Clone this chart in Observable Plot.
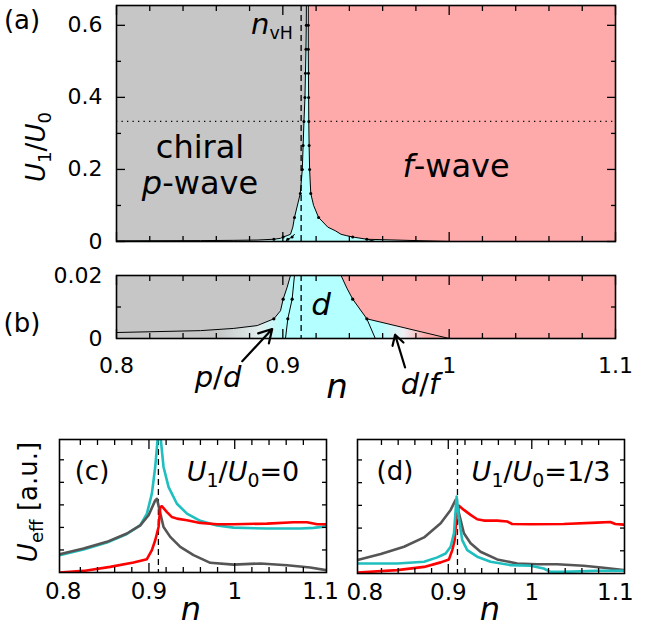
<!DOCTYPE html>
<html><head><meta charset="utf-8">
<script src="https://cdn.jsdelivr.net/npm/d3@7"></script>
<script src="https://cdn.jsdelivr.net/npm/@observablehq/plot@0.6"></script>
<style>
body{margin:0;background:#fff;}
#fig{position:relative;width:652px;height:630px;font-family:"DejaVu Sans";color:#000;overflow:hidden;}
#fig svg{position:absolute;}
.t{position:absolute;transform:translate(-50%,-50%);white-space:nowrap;line-height:1;}
.r{transform:translate(-50%,-50%) rotate(-90deg);}
.t i{font-style:italic;}
.t sub{font-size:0.7em;vertical-align:-0.32em;line-height:0;}
</style></head><body><div id="fig"></div>
<script>
// ---------- data: phase diagram boundaries (n, U1/U0) ----------
const nVH = 0.911;
const uCut = 1 / 3;
// chiral p-wave edge
const pEdgeN = [0.8000,0.8505,0.8705,0.8846,0.8946,0.8986,0.9002,0.9026,0.9046,0.9060,0.9070,0.9105,0.9117,0.9122,0.9127,0.9133,0.9136,0.9139,0.9141,0.9142];
const pEdgeU = [0.0019,0.0025,0.0032,0.0041,0.00625,0.0088,0.0125,0.0163,0.0200,0.0400,0.0667,0.1333,0.2000,0.2667,0.3333,0.4000,0.4667,0.5333,0.6000,0.7000];
// lower edge of p/d coexistence
const pdEdgeN = [0.9016,0.9030,0.9056,0.9070];
const pdEdgeU = [0.0000,0.00625,0.0125,0.0200];
// f-wave edge
const fEdgeN = [0.9556,0.9505,0.9420,0.9385,0.9350,0.9315,0.9270,0.9215,0.9185,0.9168,0.9161,0.9158,0.9156,0.9155,0.9154,0.9153,0.9153,0.9153];
const fEdgeU = [0.0000,0.00625,0.0125,0.0160,0.0200,0.0300,0.0400,0.0667,0.1000,0.1333,0.2000,0.2667,0.3333,0.4000,0.4667,0.5333,0.6000,0.7000];
// lower edge of d/f coexistence
const dfEdgeN = [0.9505,1.0000];
const dfEdgeU = [0.00625,0.0000];
// U values where the diagram was computed (dots)
const computedU = [0.00625,0.0125,0.0667,0.1333,0.2000,0.2667,0.3333,0.4000,0.4667,0.5333,0.6000];

// ---------- data: effective interaction, panel (c) U1/U0 = 0 ----------
const cGrayN = [0.7957,0.8237,0.851,0.8743,0.8898,0.8996,0.9073,0.9093,0.9124,0.917,0.9248,0.9365,0.952,0.9715,0.9987,1.03,1.061,1.088,1.107];
const cGrayV = [0.81,1.06,1.36,1.73,2.09,2.54,3.2,3.27,2.76,2.02,1.58,1.14,0.77,0.43,0.35,0.40,0.32,0.22,0.10];
const cCyanN = [0.7957,0.8237,0.851,0.8743,0.8898,0.8976,0.9034,0.9073,0.91,0.9115,0.9139,0.917,0.9229,0.9326,0.9443,0.9598,0.9793,0.9987,1.0376,1.0765,1.092,1.107];
const cCyanV = [0.77,1.02,1.33,1.71,2.09,2.61,3.5,4.68,5.86,6.3,5.86,4.68,3.79,3.05,2.61,2.29,2.09,1.99,1.95,1.95,1.98,2.05];
const cRedN = [0.7957,0.8237,0.8548,0.882,0.8976,0.9034,0.9073,0.9112,0.9132,0.915,0.921,0.9268,0.9326,0.9443,0.9598,0.9793,0.9987,1.0376,1.0687,1.0843,1.096,1.107];
const cRedV = [0,0.07,0.25,0.44,0.59,0.99,1.43,2.02,2.9,2.94,2.68,2.46,2.39,2.32,2.2,2.14,2.14,2.17,2.23,2.23,2.14,2.14];
// ---------- panel (d) U1/U0 = 1/3 ----------
const dGrayN = [0.7913,0.8192,0.847,0.871,0.8909,0.9028,0.9088,0.9128,0.9187,0.9267,0.9386,0.9586,0.9825,1.0063,1.0302,1.062,1.086,1.11];
const dGrayV = [0.59,0.86,1.18,1.59,2.21,2.8,3.24,2.65,1.77,1.33,0.96,0.62,0.44,0.41,0.41,0.34,0.25,0.15];
const dCyanN = [0.7913,0.839,0.871,0.8869,0.8968,0.9028,0.9068,0.91,0.9124,0.9167,0.9227,0.9346,0.9506,0.9745,0.9984,1.0143,1.0223,1.0382,1.078,1.11];
const dCyanV = [0.44,0.44,0.52,0.71,0.88,1.18,1.77,3.39,2.51,1.47,1.03,0.74,0.52,0.37,0.34,0.22,0.07,0.07,0.12,0.12];
const dRedN = [0.7913,0.839,0.871,0.8909,0.9008,0.9048,0.9076,0.91,0.9128,0.9187,0.9267,0.9346,0.9426,0.9586,0.9705,0.9765,0.9984,1.0382,1.078,1.094,1.1,1.11];
const dRedV = [0.04,0.15,0.29,0.49,0.62,1.03,1.47,2.51,2.98,2.8,2.58,2.39,2.33,2.33,2.29,2.18,2.17,2.18,2.24,2.27,2.18,2.15];

// ---------- ticks ----------
const nTickLabels = [0.8, 0.9, 1, 1.1];
const nMinorTicks = [0.82,0.84,0.86,0.88,0.92,0.94,0.96,0.98,1.02,1.04,1.06,1.08];
const aYLabels = [0, 0.2, 0.4, 0.6];
const aYMinor = [0.1, 0.3, 0.5];
const bYLabels = [0, 0.02];
const bYMinor = [0.01];
const effYTicks = [1, 2, 3, 4, 5];

// arrows (p/d, d/f) in panel (b): tail -> tip
const arrowData = [
  {n1: 0.8756, u1: -0.0072, n2: 0.8936, u2: 0.0030},
  {n1: 0.9735, u1: -0.0092, n2: 0.9675, u2: 0.0012}
];

// ---------- helpers ----------
const GRAY = "#c6c6c6", CYAN = "#b4ffff", PINK = "#ffaaaa";
const pts = (N, U) => N.map((n, i) => ({n, U: U[i]}));
const A = pts(pEdgeN, pEdgeU), B = pts(pdEdgeN, pdEdgeU), C = pts(fEdgeN, fEdgeU), D = pts(dfEdgeN, dfEdgeU);
const nLo = 0.79, nHi = 1.12, uHi = 0.7;
const grayPoly = [{n: nLo, U: A[0].U}, ...A, {n: nLo, U: uHi}];
const pdPoly = [{n: nLo, U: 0}, ...B, ...A.filter(d => d.U <= 0.02).reverse(), {n: nLo, U: A[0].U}];
const redPoly = [...C.filter(d => d.U > 0), {n: nHi, U: uHi}, {n: nHi, U: 0}, D[D.length - 1]];
const dfPoly = [C[0], D[D.length - 1], D[0]];
const isComputed = d => computedU.some(u => Math.abs(u - d.U) < 1e-4);
const dotPts = [...A, ...B, ...C].filter(isComputed);

function addGradients(svg, p) {
  const defs = d3.select(svg).insert("defs", ":first-child");
  const mk = (id, stops) => {
    const g = defs.append("linearGradient").attr("id", p + id).attr("x1", 0).attr("x2", 1).attr("y1", 0).attr("y2", 0);
    stops.forEach(([o, c]) => g.append("stop").attr("offset", o).attr("stop-color", c));
  };
  mk("pd", [[0, GRAY], [0.6, GRAY], [0.82, "#e2eeee"], [0.95, CYAN], [1, CYAN]]);
  mk("df", [[0, CYAN], [0.15, CYAN], [0.45, "#eeeef2"], [0.72, PINK], [1, PINK]]);
}

function tickMarks(xMin, xMaj, yMin, yMaj) {
  const o = {tickFormat: () => "", label: null, strokeWidth: 1.3};
  const m = [];
  for (const a of ["bottom", "top"]) {
    m.push(Plot.axisX(xMin, {...o, anchor: a, tickSize: -5}));
    m.push(Plot.axisX(xMaj, {...o, anchor: a, tickSize: -9}));
  }
  for (const a of ["left", "right"]) {
    if (yMin.length) m.push(Plot.axisY(yMin, {...o, anchor: a, tickSize: -5}));
    if (yMaj.length) m.push(Plot.axisY(yMaj, {...o, anchor: a, tickSize: -9}));
  }
  return m;
}

function phaseMarks(p, dotR, lineW) {
  return [
    Plot.frame({fill: CYAN, stroke: null}),
    Plot.line(grayPoly, {x: "n", y: "U", fill: GRAY, stroke: null, clip: true}),
    Plot.line(pdPoly, {x: "n", y: "U", fill: `url(#${p}pd)`, stroke: null, clip: true}),
    Plot.line(redPoly, {x: "n", y: "U", fill: PINK, stroke: null, clip: true}),
    Plot.line(dfPoly, {x: "n", y: "U", fill: `url(#${p}df)`, stroke: null, clip: true}),
    Plot.line(A, {x: "n", y: "U", stroke: "#000", strokeWidth: lineW, clip: true}),
    Plot.line(B, {x: "n", y: "U", stroke: "#000", strokeWidth: lineW, clip: true}),
    Plot.line(C, {x: "n", y: "U", stroke: "#000", strokeWidth: lineW, clip: true}),
    Plot.line(D, {x: "n", y: "U", stroke: "#000", strokeWidth: lineW, clip: true}),
    Plot.dot(dotPts, {x: "n", y: "U", r: dotR, fill: "#000", stroke: null, clip: true}),
    Plot.ruleX([nVH], {stroke: "#000", strokeWidth: 1.3, strokeDasharray: "6,4"})
  ];
}

const fig = document.getElementById("fig");
const baseStyle = {fontFamily: "DejaVu Sans", fontSize: "22px", color: "#000", background: "transparent", overflow: "visible"};
function place(svg, left, top) { svg.style.left = left + "px"; svg.style.top = top + "px"; fig.appendChild(svg); }
const fmt = d => String(d);

// ---------- panel (a) ----------
const svgA = Plot.plot({
  width: 640, height: 250, marginLeft: 116, marginRight: 25, marginTop: 5, marginBottom: 9,
  style: baseStyle,
  x: {domain: [0.8, 1.1]},
  y: {domain: [0, 0.655]},
  marks: [
    ...phaseMarks("a_", 1.5, 1),
    Plot.ruleY([uCut], {stroke: "#000", strokeWidth: 1.3, strokeDasharray: "1.3,4.2"}),
    ...tickMarks(nMinorTicks, nTickLabels, aYMinor, aYLabels),
    Plot.axisY(aYLabels, {anchor: "left", tickSize: 0, tickPadding: 14, fontSize: 22, tickFormat: fmt, label: null}),
    Plot.frame({stroke: "#000", strokeWidth: 1.6})
  ]
});
addGradients(svgA, "a_");
place(svgA, 0, 0);

// ---------- panel (b) ----------
const svgB = Plot.plot({
  width: 640, height: 110, marginLeft: 116, marginRight: 25, marginTop: 10, marginBottom: 37,
  style: baseStyle,
  x: {domain: [0.8, 1.1]},
  y: {domain: [0, 0.02]},
  marks: [
    ...phaseMarks("b_", 1.6, 1),
    ...tickMarks(nMinorTicks, nTickLabels, bYMinor, []),
    Plot.axisY(bYLabels, {anchor: "left", tickSize: 0, tickPadding: 14, fontSize: 22, tickFormat: fmt, label: null}),
    Plot.axisX(nTickLabels, {anchor: "bottom", tickSize: 0, tickPadding: 19, fontSize: 22, tickFormat: fmt, label: null}),
    Plot.arrow(arrowData, {x1: "n1", y1: "u1", x2: "n2", y2: "u2", stroke: "#000", strokeWidth: 2.2, headLength: 11, bend: 0}),
    Plot.frame({stroke: "#000", strokeWidth: 1.6})
  ]
});
addGradients(svgB, "b_");
place(svgB, 0, 265);

// ---------- panels (c), (d) ----------
function effPanel(domain, series, order, mLeft, mRight, mBottom) {
  return Plot.plot({
    width: mLeft + 267 + mRight, height: 180, marginLeft: mLeft, marginRight: mRight, marginTop: 9, marginBottom: mBottom,
    style: baseStyle,
    x: {domain},
    y: {domain: [0, 5.9]},
    marks: [
      Plot.ruleX([nVH], {stroke: "#000", strokeWidth: 1.3, strokeDasharray: "6,4"}),
      ...order.map(k => Plot.line(pts(series[k][0], series[k][1]), {x: "n", y: "U", stroke: series[k][2], strokeWidth: 2.6, clip: true})),
      ...tickMarks(nMinorTicks, [0.9, 1], effYTicks, []),
      Plot.axisX(nTickLabels, {anchor: "bottom", tickSize: 0, tickPadding: 10, fontSize: 23, tickFormat: fmt, label: null}),
      Plot.frame({stroke: "#000", strokeWidth: 1.6})
    ]
  });
}
const svgC = effPanel([0.7957, 1.107], {gray: [cGrayN, cGrayV, "#555555"], cyan: [cCyanN, cCyanV, "#1fbfbf"], red: [cRedN, cRedV, "#ff0000"]}, ["cyan", "gray", "red"], 59, 9, 38);
place(svgC, 0, 430);
const svgD = effPanel([0.7913, 1.111], {gray: [dGrayN, dGrayV, "#555555"], cyan: [dCyanN, dCyanV, "#1fbfbf"], red: [dRedN, dRedV, "#ff0000"]}, ["gray", "red", "cyan"], 17, 28, 37);
place(svgD, 340, 430);

// ---------- text ----------
const labels = [
  {x: 22, y: 20, s: 26, h: "(a)"},
  {x: 36, y: 147, s: 26, h: "<i>U</i><sub>1</sub>/<i>U</i><sub>0</sub>", r: true},
  {x: 272, y: 24, s: 29, h: "<i>n</i><sub style='font-size:0.6em'>vH</sub>"},
  {x: 200, y: 147, s: 32, h: "chiral"},
  {x: 200, y: 183, s: 32, h: "<i>p</i>-wave"},
  {x: 456, y: 166, s: 32, h: "<i>f</i>-wave"},
  {x: 22, y: 323, s: 26, h: "(b)"},
  {x: 321, y: 304, s: 31, h: "<i>d</i>"},
  {x: 218, y: 377, s: 29, h: "<i>p</i>/<i>d</i>"},
  {x: 420, y: 384, s: 29, h: "<i>d</i>/<i>f</i>"},
  {x: 337, y: 386, s: 34, h: "<i>n</i>"},
  {x: 28, y: 502, s: 26, h: "<i>U</i><sub>eff</sub> [a.u.]", r: true},
  {x: 92, y: 471, s: 26, h: "(c)"},
  {x: 243, y: 471, s: 27, h: "<i>U</i><sub>1</sub>/<i>U</i><sub>0</sub>=0"},
  {x: 395, y: 471, s: 26, h: "(d)"},
  {x: 541, y: 471, s: 27, h: "<i>U</i><sub>1</sub>/<i>U</i><sub>0</sub>=1/3"},
  {x: 191, y: 609, s: 32, h: "<i>n</i>"},
  {x: 490, y: 609, s: 32, h: "<i>n</i>"}
];
for (const l of labels) {
  const d = document.createElement("div");
  d.className = "t" + (l.r ? " r" : "");
  d.style.left = l.x + "px"; d.style.top = l.y + "px"; d.style.fontSize = l.s + "px";
  d.innerHTML = l.h;
  fig.appendChild(d);
}
</script></body></html>
